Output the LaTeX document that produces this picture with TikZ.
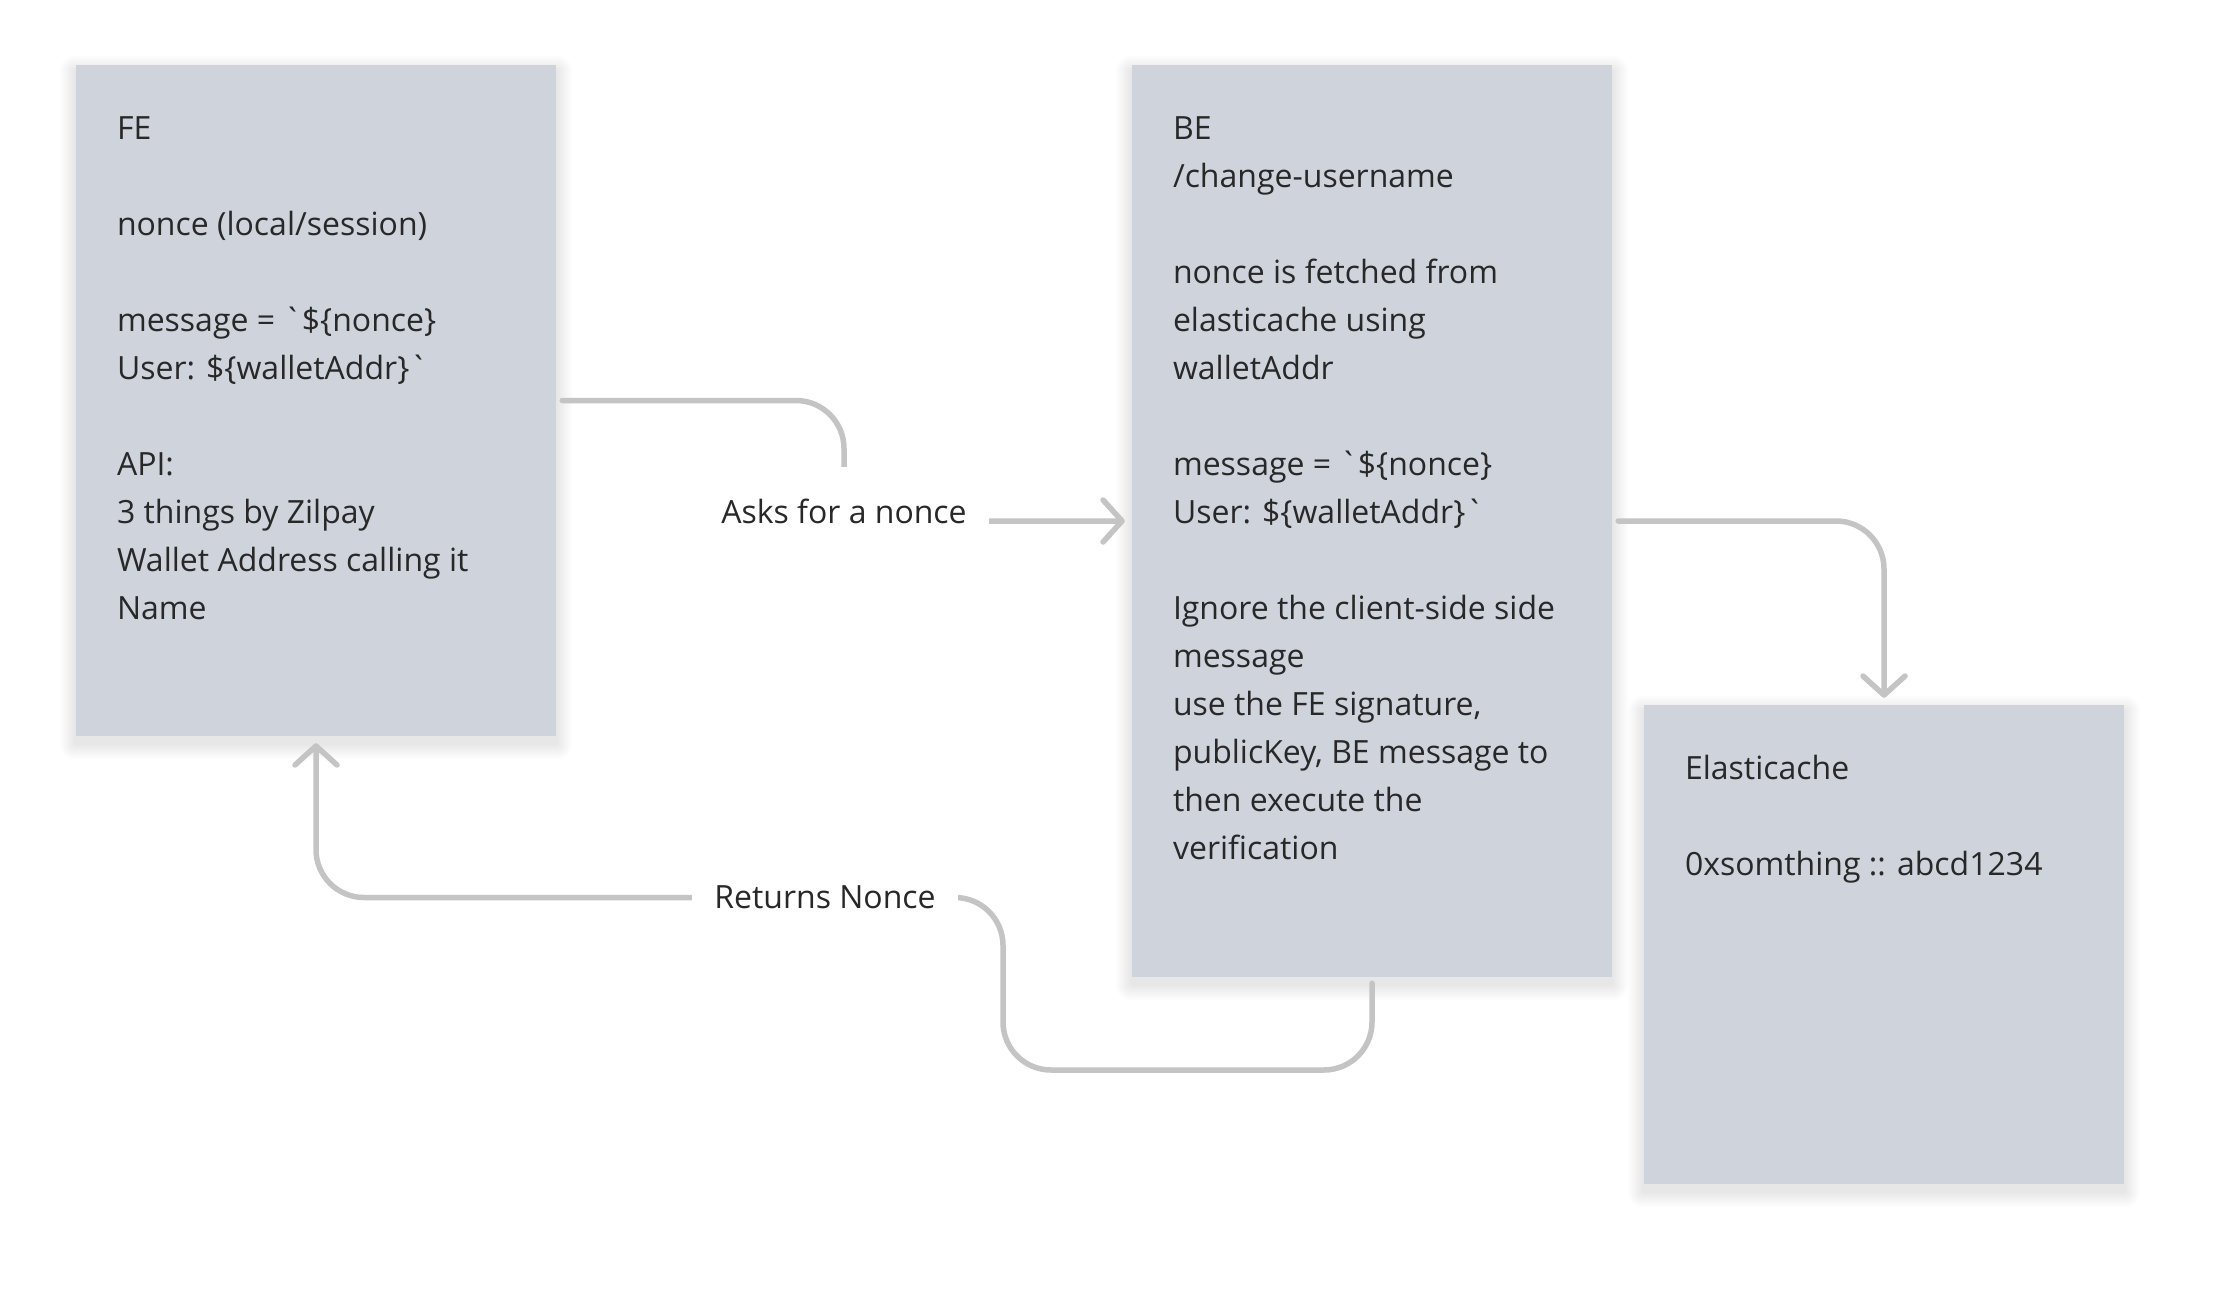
\documentclass[tikz,border=0pt]{standalone}
\usepackage{fontspec}
\setmainfont{Open Sans}
\definecolor{boxgray}{RGB}{207,212,220}
\definecolor{linegray}{RGB}{196,196,196}
\definecolor{inkgray}{RGB}{40,40,40}
\usetikzlibrary{positioning,arrows.meta}
\pgfdeclarelayer{back}
\pgfsetlayers{back,main}

\begin{document}
\begin{tikzpicture}[
  x=1pt, y=-1pt,
  every node/.style={font=\fontsize{32}{48}\selectfont, text=inkgray},
  box/.style={fill=boxgray,minimum width=480pt,inner sep=0pt},
  note/.style={align=left,inner sep=0pt},
  tag/.style={fill=white,inner xsep=22pt,inner ysep=0pt,minimum height=88pt},
  arrow/.style={-{Straight Barb[length=19pt,width=42pt,round]},line width=5.5pt,linegray,line cap=round,rounded corners=48pt,shorten >=7pt,shorten <=6pt}
]
  \useasboundingbox (0,0) rectangle (2218,1299);

  \node[box,minimum height=671pt] (fe) at (316,400.5) {};
  \node[box,minimum height=912pt] (be) at (1372,521) {};
  \node[box,minimum height=479pt] (cache) at (1884,944.5) {};

  \node[note,below right=41pt and 41pt of fe.north west] (fetext) {\strut FE\\[48pt]
  nonce (local/session)\\[48pt]
  message = \textasciigrave\$\{nonce\}\\
  User: \$\{walletAddr\}\textasciigrave\\[48pt]
  API:\\
  3 things by Zilpay\\
  Wallet Address calling it\\
  Name};
  \node[note,below right=41pt and 41pt of be.north west] (betext) {\strut BE\\
  /change-username\\[48pt]
  nonce is fetched from\\
  elasticache using\\
  walletAddr\\[48pt]
  message = \textasciigrave\$\{nonce\}\\
  User: \$\{walletAddr\}\textasciigrave\\[48pt]
  Ignore the client-side side\\
  message\\
  use the FE signature,\\
  publicKey, BE message to\\
  then execute the\\
  verification};
  \node[note,below right=41pt and 41pt of cache.north west] (cachetext) {\strut Elasticache\\[48pt]
  0xsomthing :: abcd1234};

  \node[tag] (ask) at (844,511) {Asks for a nonce};
  \node[tag] (ret) at (825,897.5) {Returns Nonce};
  \coordinate (retbend) at (1003,1070);

  \begin{pgfonlayer}{back}
    \fill[white] (0,0) rectangle (2218,1299);
    % soft shadow under the boxes
    \foreach \b in {fe,be,cache}
      \foreach \g in {2,4,...,16}
        \fill[black,opacity=0.011,rounded corners=\g pt] ([shift={(-\g,-\g+7)}]\b.north west) rectangle ([shift={(\g,\g+7)}]\b.south east);
    \draw[arrow] (fe.east) -| (ask.center |- be.west) -- (be.west);
    \draw[arrow] (be.east) -| (cache.north);
    \draw[arrow] (be.south) |- (retbend) |- (ret.center) -| (fe.south);
  \end{pgfonlayer}
\end{tikzpicture}
\end{document}
